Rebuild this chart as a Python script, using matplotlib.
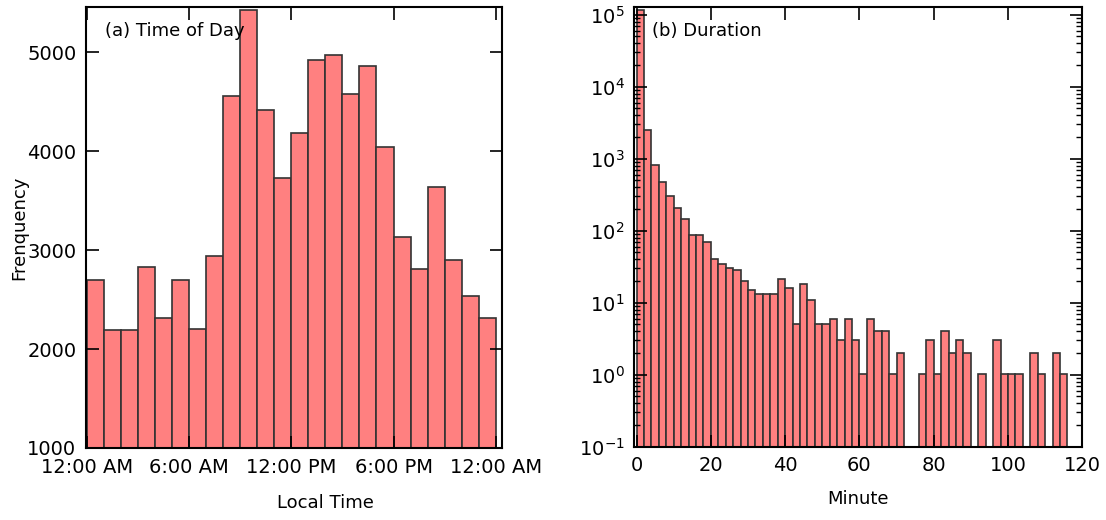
import matplotlib
matplotlib.use('Agg')
import matplotlib.pyplot as plt
import matplotlib.ticker as mticker
import numpy as np

plt.rcParams['font.family'] = ['DejaVu Sans']
plt.rcParams['mathtext.fontset'] = 'dejavusans'

# (a) time of day, hourly counts
hours = list(range(24))
hour_counts = [2700, 2190, 2190, 2830, 2310, 2700, 2200, 2940,
               4560, 5430, 4420, 3730, 4180, 4920, 4970, 4580,
               4860, 4040, 3130, 2810, 3640, 2900, 2540, 2310]
time_ticks = [0, 6, 12, 18, 24]
time_labels = ['12:00 AM', '6:00 AM', '12:00 PM', '6:00 PM', '12:00 AM']

# (b) duration, 2-minute bins
dur_edges = list(range(0, 116, 2))
dur_counts = [117000, 2500, 830, 470, 300, 210, 145, 88, 88, 70,
              40, 35, 30, 28, 20, 15, 13, 13, 13, 21,
              16, 5, 18, 11, 5, 5, 6, 3, 6, 3,
              1, 6, 4, 4, 1, 2, 0, 0, 1, 3,
              1, 4, 2, 3, 2, 0, 1, 0, 3, 1,
              1, 1, 0, 2, 1, 0, 2, 1]

bar_color = '#ff8080'
edge_color = '#333333'

fig = plt.figure(figsize=(11.06, 5.2), dpi=100)
ax1 = fig.add_axes([0.0778, 0.1385, 0.3758, 0.8485])
ax2 = fig.add_axes([0.5735, 0.141, 0.405, 0.846])

ax1.bar(hours, hour_counts, width=1, align='edge', color=bar_color,
        edgecolor=edge_color, linewidth=1.2)
ax1.set_xlim(-0.05, 24.35)
ax1.set_ylim(1000, 5460)
ax1.set_xticks(time_ticks)
ax1.set_xticklabels(time_labels)
ax1.set_yticks([1000, 2000, 3000, 4000, 5000])
ax1.set_xlabel('Local Time', fontsize=13)
ax1.xaxis.set_label_coords(0.575, -0.104)
ax1.set_ylabel('Frenquency', fontsize=13)
ax1.yaxis.set_label_coords(-0.139, 0.5)
ax1.text(0.045, 0.945, '(a) Time of Day', transform=ax1.transAxes,
         fontsize=13, va='center', ha='left')

nz = [(e, c) for e, c in zip(dur_edges, dur_counts) if c > 0]
ax2.bar([e for e, c in nz], [c for e, c in nz], width=2, align='edge',
        bottom=0.01, color=bar_color, edgecolor=edge_color, linewidth=1.2)
ax2.set_yscale('log')
ax2.set_xlim(-0.6, 120)
ax2.set_ylim(0.1, 1.29e5)
ax2.set_xticks([0, 20, 40, 60, 80, 100, 120])
ax2.yaxis.set_major_locator(mticker.LogLocator(base=10, numticks=10))
ax2.yaxis.set_minor_locator(mticker.LogLocator(base=10, subs=np.arange(2, 10), numticks=20))
ax2.yaxis.set_minor_formatter(mticker.NullFormatter())
ax2.set_xlabel('Minute', fontsize=13)
ax2.xaxis.set_label_coords(0.5, -0.098)
ax2.text(0.04, 0.945, '(b) Duration', transform=ax2.transAxes,
         fontsize=13, va='center', ha='left')

for ax in (ax1, ax2):
    ax.tick_params(which='major', direction='in', length=9, width=1.2,
                   top=True, right=True, labelsize=14, pad=7)
    ax.tick_params(which='minor', direction='in', length=4, width=1,
                   top=True, right=True)
    for s in ax.spines.values():
        s.set_linewidth(1.5)

fig.savefig('out.png', dpi=100)
